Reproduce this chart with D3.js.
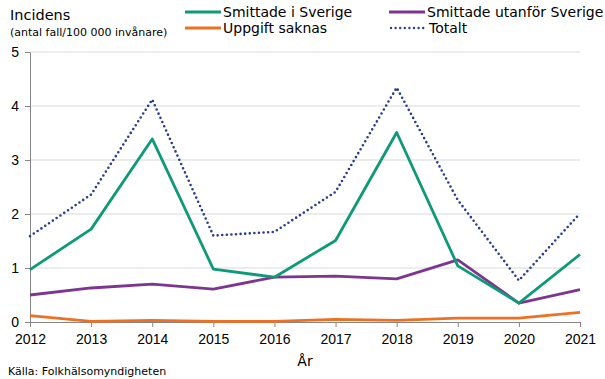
<!DOCTYPE html>
<html>
<head>
<meta charset="utf-8">
<script src="https://cdn.jsdelivr.net/npm/d3@7"></script>
<style>
  body { margin: 0; background: #fff; }
  svg { display: block; font-family: "DejaVu Sans", Verdana, sans-serif; }
</style>
</head>
<body>
<svg id="chart" width="605" height="379"></svg>
<script>
// values
var years = [2012, 2013, 2014, 2015, 2016, 2017, 2018, 2019, 2020, 2021]
var sverige = [0.97, 1.72, 3.39, 0.98, 0.83, 1.51, 3.51, 1.04, 0.35, 1.25]
var utanfor = [0.50, 0.63, 0.70, 0.61, 0.83, 0.85, 0.80, 1.15, 0.35, 0.60]
var saknas = [0.12, 0.01, 0.03, 0.01, 0.01, 0.05, 0.03, 0.07, 0.07, 0.18]
var totalt = [1.59, 2.36, 4.12, 1.60, 1.67, 2.41, 4.34, 2.26, 0.77, 2.01]
var yTicks = [0, 1, 2, 3, 4, 5]

var svg = d3.select("#chart")

var x = d3.scaleLinear().domain([2012, 2021]).range([30, 580])
var y = d3.scaleLinear().domain([0, 5]).range([322, 52])

// gridlines
svg.append("g")
    .selectAll("line")
    .data(yTicks.filter(function (d) { return d > 0 }))
    .enter()
    .append("line")
    .attr("x1", 30).attr("x2", 580)
    .attr("y1", function (d) { return y(d) }).attr("y2", function (d) { return y(d) })
    .style("stroke", "#d9d9d9")
    .style("stroke-width", 1)

// y axis
var yAxis = svg.append("g")
    .attr("transform", "translate(30,0)")
    .call(d3.axisLeft(y).tickValues(yTicks).tickFormat(d3.format("d")).tickSize(5).tickSizeOuter(0))
yAxis.select(".domain").style("stroke", "#868686")
yAxis.selectAll(".tick line").style("stroke", "#868686")
yAxis.selectAll(".tick text")
    .attr("x", -11)
    .style("font-size", "14px")
    .style("fill", "#000")

// x axis
var xAxis = svg.append("g")
    .attr("transform", "translate(0,322)")
    .call(d3.axisBottom(x).tickValues(years).tickFormat(d3.format("d")).tickSize(5).tickSizeOuter(0))
xAxis.select(".domain").style("stroke", "#868686")
xAxis.selectAll(".tick line").style("stroke", "#868686")
xAxis.selectAll(".tick text")
    .attr("y", 12)
    .style("font-size", "14px")
    .style("fill", "#000")

var series = [
    { name: "Uppgift saknas", values: saknas, color: "#f07023", dash: null },
    { name: "Smittade utanför Sverige", values: utanfor, color: "#7d3590", dash: null },
    { name: "Smittade i Sverige", values: sverige, color: "#0e9a78", dash: null },
    { name: "Totalt", values: totalt, color: "#2a3c8c", dash: "0,4.6" }
]

var line = d3.line()
    .x(function (d, i) { return x(years[i]) })
    .y(function (d) { return y(d) })

svg.append("g")
    .selectAll("path")
    .data(series)
    .enter()
    .append("path")
    .attr("d", function (s) { return line(s.values) })
    .style("fill", "none")
    .style("stroke", function (s) { return s.color })
    .style("stroke-width", function (s) { return s.dash ? 2.6 : 2.8 })
    .style("stroke-dasharray", function (s) { return s.dash })
    .style("stroke-linecap", function (s) { return s.dash ? "round" : "butt" })
    .style("stroke-linejoin", "round")

// legend
var legendItems = [
    { name: "Smittade i Sverige", color: "#0e9a78", dash: null, lx: 185, ly: 12 },
    { name: "Smittade utanför Sverige", color: "#7d3590", dash: null, lx: 389, ly: 12 },
    { name: "Uppgift saknas", color: "#f07023", dash: null, lx: 185, ly: 28 },
    { name: "Totalt", color: "#2a3c8c", dash: "0,4.6", lx: 391, ly: 28 }
]
var legend = svg.append("g")
    .selectAll("g")
    .data(legendItems)
    .enter()
    .append("g")
legend.append("line")
    .attr("x1", function (d) { return d.lx }).attr("x2", function (d) { return d.lx + 36 })
    .attr("y1", function (d) { return d.ly }).attr("y2", function (d) { return d.ly })
    .style("stroke", function (d) { return d.color })
    .style("stroke-width", function (d) { return d.dash ? 2.4 : 3 })
    .style("stroke-dasharray", function (d) { return d.dash })
    .style("stroke-linecap", function (d) { return d.dash ? "round" : "butt" })
legend.append("text")
    .attr("x", function (d) { return d.lx + 38 })
    .attr("y", function (d) { return d.ly + 5 })
    .text(function (d) { return d.name })
    .style("font-size", "14px")

// titles
svg.append("text").attr("x", 10).attr("y", 20).text("Incidens").style("font-size", "14.5px")
svg.append("text").attr("x", 10).attr("y", 36).text("(antal fall/100 000 invånare)").style("font-size", "11px")
svg.append("text").attr("x", 305).attr("y", 366).attr("text-anchor", "middle").text("År").style("font-size", "14px")
svg.append("text").attr("x", 8).attr("y", 375).text("Källa: Folkhälsomyndigheten").style("font-size", "11px")
</script>
</body>
</html>
